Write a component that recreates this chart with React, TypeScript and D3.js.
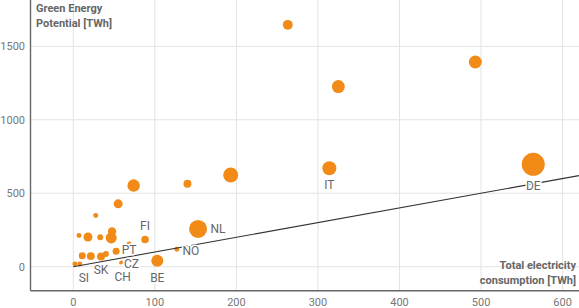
import React from "react";
import * as d3 from "d3";

const labels = ["", "", "", "", "IT", "DE", "NL", "", "", "", "", "FI", "", "", "", "", "", "", "", "SK", "", "", "CZ", "CH", "PT", "NO", "BE", "", "SI"];
const consumption = [263, 325, 493, 193, 314, 564, 153, 74, 140, 55, 27.5, 88, 7, 18, 33, 47.5, 46.5, 11, 21.5, 34, 40, 52.5, 59, 58, 68.5, 127, 103, 2, 8];
const potential = [1646, 1226, 1393, 624, 670, 697, 257, 552, 565, 428, 348, 185, 213, 202, 200, 240, 196, 74, 72, 70, 86, 105, 30, 26, 155, 119, 40, 18, 18];
const bubbleSize = [17, 29, 29, 39, 34, 92, 56, 27, 11, 14, 4.3, 10, 4.3, 14, 6, 12, 21, 8.5, 11, 11, 6, 8.5, 2.2, 1.6, 4.3, 4.3, 25, 4.3, 4.3];

const xTicks = [0, 100, 200, 300, 400, 500, 600];
const yTicks = [0, 500, 1000, 1500];
const trendX = [0, 620];

// label placement offsets (styling), keyed by label
const labelOffset: Record<string, [number, number]> = {
  IT: [0, 17],
  DE: [0, 22],
  NL: [20, 0],
  FI: [0, -14],
  SK: [0, 13],
  CZ: [10, 2],
  CH: [2, 14],
  PT: [0, 6],
  NO: [14, 1.5],
  BE: [0, 17],
  SI: [4, 14],
};

const W = 579;
const H = 308;
const left = 30.5;
const right = 579;
const top = 0;
const bottom = 290.7;

export default function App() {
  const x = d3.scaleLinear().domain([0, 600]).range([73.3, 562.6]);
  const y = d3.scaleLinear().domain([0, 1500]).range([266.7, 46.3]);
  const r = d3.scaleSqrt().domain([0, 100]).range([0, 12]);
  const line = d3
    .line<number>()
    .x((d) => x(d))
    .y((d) => y(d));

  const data = labels.map((l, i) => ({
    label: l,
    cx: x(consumption[i]),
    cy: y(potential[i]),
    r: r(bubbleSize[i]),
  }));

  const font = "Roboto, 'Noto Sans', sans-serif";
  const orange = "#f28a17";

  return (
    <svg
      width={W}
      height={H}
      style={{ position: "absolute", left: 0, top: 0, fontFamily: font }}
    >
      {/* grid */}
      {xTicks.map((t) => (
        <line key={"gx" + t} x1={x(t)} x2={x(t)} y1={top} y2={bottom} stroke="#e3e3e3" strokeWidth={1} />
      ))}
      {yTicks.map((t) => (
        <line key={"gy" + t} x1={left} x2={right} y1={y(t)} y2={y(t)} stroke="#e3e3e3" strokeWidth={1} />
      ))}
      {/* axes */}
      <line x1={left} x2={left} y1={top} y2={bottom} stroke="#666" strokeWidth={1.4} />
      <line x1={left} x2={right} y1={bottom} y2={bottom} stroke="#666" strokeWidth={1.4} />
      {xTicks.map((t) => (
        <text key={"tx" + t} x={x(t)} y={306} textAnchor="middle" fontSize={11} fill="#777">
          {t}
        </text>
      ))}
      {yTicks.map((t) => (
        <text key={"ty" + t} x={25} y={y(t)} dy="0.35em" textAnchor="end" fontSize={11} fill="#777">
          {t}
        </text>
      ))}
      {/* bubbles */}
      {data.map((d, i) => (
        <circle key={"c" + i} cx={d.cx} cy={d.cy} r={d.r} fill={orange} />
      ))}
      {/* trend line */}
      <path d={line(trendX) || ""} fill="none" stroke="#333" strokeWidth={1.1} />
      {/* labels */}
      {data
        .filter((d) => d.label)
        .map((d) => {
          const off = labelOffset[d.label] || [0, 0];
          return (
            <text
              key={"l" + d.label}
              x={d.cx + off[0]}
              y={d.cy + off[1]}
              dy="0.35em"
              textAnchor="middle"
              fontSize={12}
              fill="#666"
              stroke="#fff"
              strokeWidth={3}
              paintOrder="stroke"
              strokeLinejoin="round"
            >
              {d.label}
            </text>
          );
        })}
      {/* axis titles */}
      <text x={36} y={12} fontSize={11} fontWeight="bold" fill="#666">
        <tspan x={36}>Green Energy</tspan>
        <tspan x={36} dy={15}>Potential [TWh]</tspan>
      </text>
      <text x={576} y={269} fontSize={11} fontWeight="bold" fill="#666" textAnchor="end">
        <tspan x={576}>Total electricity</tspan>
        <tspan x={576} dy={15}>consumption [TWh]</tspan>
      </text>
    </svg>
  );
}
